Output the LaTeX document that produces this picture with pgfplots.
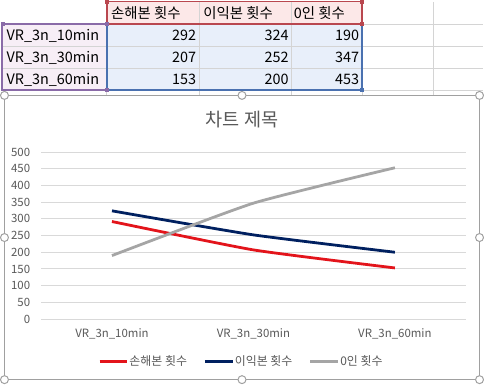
\documentclass[border=0pt]{standalone}
\usepackage{fontspec}
\setmainfont{Noto Sans CJK KR}
\usepackage{pgfplots}
\pgfplotsset{compat=1.18}
\definecolor{xlred}{HTML}{E3141B}
\definecolor{xlnavy}{HTML}{002060}
\definecolor{xlgray}{HTML}{A5A5A5}
\definecolor{txt}{HTML}{595959}
\definecolor{gridc}{HTML}{D9D9D9}
\definecolor{cellgrid}{HTML}{D4D4D4}
\definecolor{hdrfill}{HTML}{FCE8E8}
\definecolor{hdrborder}{HTML}{B9474F}
\definecolor{lblfill}{HTML}{F7EEF6}
\definecolor{lblborder}{HTML}{8A6BA8}
\definecolor{datfill}{HTML}{E8EFFA}
\definecolor{datborder}{HTML}{4A71B0}
\definecolor{chartborder}{HTML}{A0A0A0}
\begin{document}
\begin{tikzpicture}
% canvas
\fill[white] (0pt,0pt) rectangle (484pt,-382pt);
\path (0pt,0pt) rectangle (484pt,-382pt);
% ---------- spreadsheet ----------
\fill[hdrfill] (106pt,0pt) rectangle (363pt,-22.5pt);
\fill[lblfill] (0pt,-22.5pt) rectangle (106pt,-88.5pt);
\fill[datfill] (106pt,-22.5pt) rectangle (363pt,-88.5pt);
\foreach \yy in {22.5,44.5,66.5,88.5} {\draw[cellgrid,line width=0.8pt] (0pt,-\yy pt) -- (484pt,-\yy pt);}
\foreach \xx in {106,199,292,363,435} {\draw[cellgrid,line width=0.8pt] (\xx pt,0pt) -- (\xx pt,-94pt);}
\draw[hdrborder,line width=2pt] (106pt,0.5pt) rectangle (363pt,-22.5pt);
\draw[lblborder,line width=2pt] (1pt,-22.5pt) rectangle (106pt,-88.5pt);
\draw[datborder,line width=2pt] (106pt,-22.5pt) -- (106pt,-88.5pt) -- (363pt,-88.5pt) -- (363pt,-22.5pt);
\fill[hdrborder] (104pt,2pt) rectangle (108pt,-2pt);
\fill[hdrborder] (361pt,2pt) rectangle (365pt,-2pt);
\fill[hdrborder] (361pt,-20.5pt) rectangle (365pt,-24.5pt);
\fill[lblborder] (0pt,-20.5pt) rectangle (4pt,-24.5pt);
\fill[lblborder] (104pt,-20.5pt) rectangle (108pt,-24.5pt);
\fill[lblborder] (104pt,-86.5pt) rectangle (108pt,-90.5pt);
\fill[datborder] (361pt,-86.5pt) rectangle (365pt,-90.5pt);
\begin{scope}[every node/.style={font=\fontsize{14.5}{16}\selectfont, inner sep=0pt, text=black}]
\node[anchor=base west] at (110pt,-17pt) {손해본 횟수};
\node[anchor=base west] at (203pt,-17pt) {이익본 횟수};
\node[anchor=base west] at (294pt,-17pt) {0인 횟수};
\node[anchor=base west] at (5pt,-39pt) {VR\_3n\_10min};
\node[anchor=base west] at (5pt,-61pt) {VR\_3n\_30min};
\node[anchor=base west] at (5pt,-83pt) {VR\_3n\_60min};
\node[anchor=base east] at (196pt,-39pt) {292};
\node[anchor=base east] at (289pt,-39pt) {324};
\node[anchor=base east] at (360pt,-39pt) {190};
\node[anchor=base east] at (196pt,-61pt) {207};
\node[anchor=base east] at (289pt,-61pt) {252};
\node[anchor=base east] at (360pt,-61pt) {347};
\node[anchor=base east] at (196pt,-83pt) {153};
\node[anchor=base east] at (289pt,-83pt) {200};
\node[anchor=base east] at (360pt,-83pt) {453};
\end{scope}
% ---------- chart area ----------
\draw[chartborder,fill=white,line width=1.2pt] (3pt,-94pt) rectangle (481pt,-380pt);
\node[font=\fontsize{18.7}{20}\selectfont, text=txt, inner sep=0pt] at (242pt,-118.5pt) {차트 제목};
\begin{axis}[
  at={(40pt,-319pt)}, anchor=south west,
  scale only axis, width=427pt, height=168pt,
  xmin=-0.5, xmax=2.5, ymin=0, ymax=500,
  xtick={0,1,2},
  xticklabels={VR\_3n\_10min,VR\_3n\_30min,VR\_3n\_60min},
  ytick={0,50,...,500},
  ymajorgrids, grid style={draw=gridc, line width=0.9pt},
  axis line style={draw=none},
  major tick length=0pt,
  /pgf/number format/assume math mode=true,
  tick label style={font=\fontsize{11.5}{13}\selectfont, text=txt, inner sep=0pt},
  yticklabel style={anchor=east, xshift=-11pt},
  xticklabel style={anchor=base, yshift=-19pt},
  legend columns=3,
  legend style={at={(0.47,-0.256)}, anchor=center, draw=none, fill=none,
    font=\fontsize{12}{14}\selectfont, text=txt,
    nodes={inner sep=0.7pt},
    /tikz/every even column/.append style={column sep=16pt}},
  legend image code/.code={\draw[#1] (0pt,0pt) -- (28pt,0pt);},
  every axis plot/.append style={line width=2.8pt, smooth, tension=0.3},
]
\addplot[xlred] coordinates {(0,292) (1,207) (2,153)};
\addlegendentry{손해본 횟수}
\addplot[xlnavy] coordinates {(0,324) (1,252) (2,200)};
\addlegendentry{이익본 횟수}
\addplot[xlgray] coordinates {(0,190) (1,347) (2,453)};
\addlegendentry{0인 횟수}
\end{axis}
% selection handles
\foreach \p in {(3pt,-94pt),(242pt,-94pt),(481pt,-94pt),(3pt,-237pt),(481pt,-237pt),(3pt,-380pt),(242pt,-380pt),(481pt,-380pt)}
  {\draw[chartborder,fill=white,line width=1pt] \p circle (4pt);}
\end{tikzpicture}
\end{document}
